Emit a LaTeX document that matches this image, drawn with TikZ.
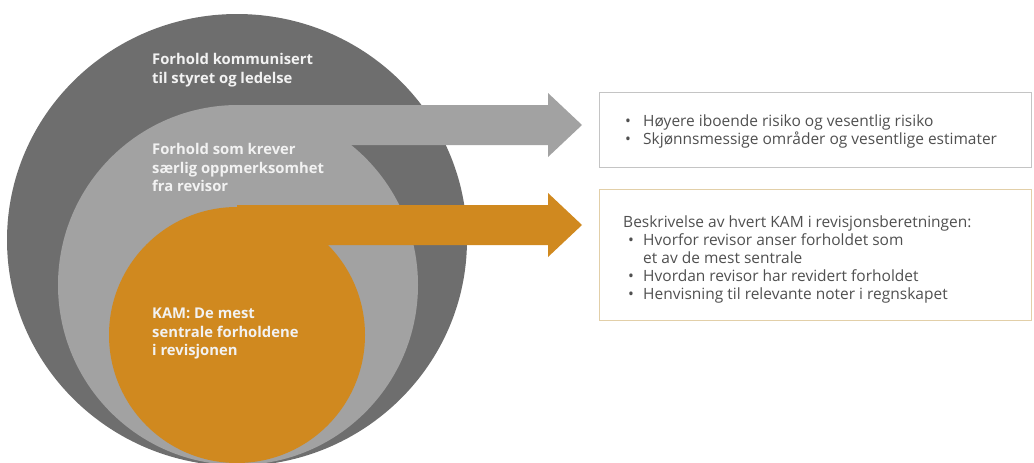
\documentclass[tikz,border=0pt]{standalone}
\usepackage{fontspec}
\setmainfont{Open Sans}
\definecolor{darkring}{HTML}{6E6E6E}
\definecolor{midring}{HTML}{A2A2A2}
\definecolor{kamorange}{HTML}{D0891F}
\definecolor{lighttext}{HTML}{F2F2F2}
\definecolor{bodytext}{HTML}{505050}
\definecolor{boxgray}{HTML}{C4C4C4}
\definecolor{boxtan}{HTML}{E2CFA8}
\begin{document}
\begin{tikzpicture}[x=1pt,y=-1pt,
  circtext/.style={font=\fontsize{14.8}{18.5}\selectfont\bfseries, text=lighttext, align=left, inner sep=0pt, anchor=north west},
  boxtext/.style={font=\fontsize{15.5}{16}\selectfont, text=bodytext, align=left, inner sep=0pt, anchor=north west},
  infobox/.style={line width=1pt, inner sep=0pt, anchor=north west, fill=white}]
\useasboundingbox (0,0) rectangle (1034,463);
\begin{scope}
  \clip (0,0) rectangle (1034,463);
  % outer ring
  \fill[darkring] (237,240) ellipse [x radius=230, y radius=226];
  % middle ring with its arrow
  \fill[midring] (238,285) circle [radius=180];
  \fill[midring] (238,105) -- (548,105) -- (548,93) -- (582,125) -- (548,157) -- (548,145) -- (238,145) -- cycle;
  % inner KAM circle with its arrow
  \fill[kamorange] (237,335) circle [radius=128];
  \fill[kamorange] (237,205) -- (548,205) -- (548,193) -- (582,225) -- (548,257) -- (548,245) -- (237,245) -- cycle;
\end{scope}
% circle labels
\node[circtext] (t1) at (152,53.5) {Forhold kommunisert\\til styret og ledelse};
\node[circtext] (t2) at (152,143.5) {Forhold som krever\\særlig oppmerksomhet\\fra revisor};
\node[circtext] (t3) at (152,308) {KAM: De mest\\sentrale forholdene\\i revisjonen};
% right boxes
\node[infobox, draw=boxgray, minimum width=432, minimum height=75] (box1) at (599,92) {};
\node[infobox, draw=boxtan, minimum width=432, minimum height=131] (box2) at (599,189) {};
\node[boxtext] (b1) at (625,115) {\makebox[18pt][l]{•}Høyere iboende risiko og vesentlig risiko\\
  \makebox[18pt][l]{•}Skjønnsmessige områder og vesentlige estimater};
\node[boxtext, font=\fontsize{15.5}{18}\selectfont] (b2) at (623,216) {Beskrivelse av hvert KAM i revisjonsberetningen:\\
  \hspace*{5pt}\makebox[15pt][l]{•}Hvorfor revisor anser forholdet som\\
  \hspace*{20pt}et av de mest sentrale\\
  \hspace*{5pt}\makebox[15pt][l]{•}Hvordan revisor har revidert forholdet\\
  \hspace*{5pt}\makebox[15pt][l]{•}Henvisning til relevante noter i regnskapet};
\end{tikzpicture}
\end{document}
